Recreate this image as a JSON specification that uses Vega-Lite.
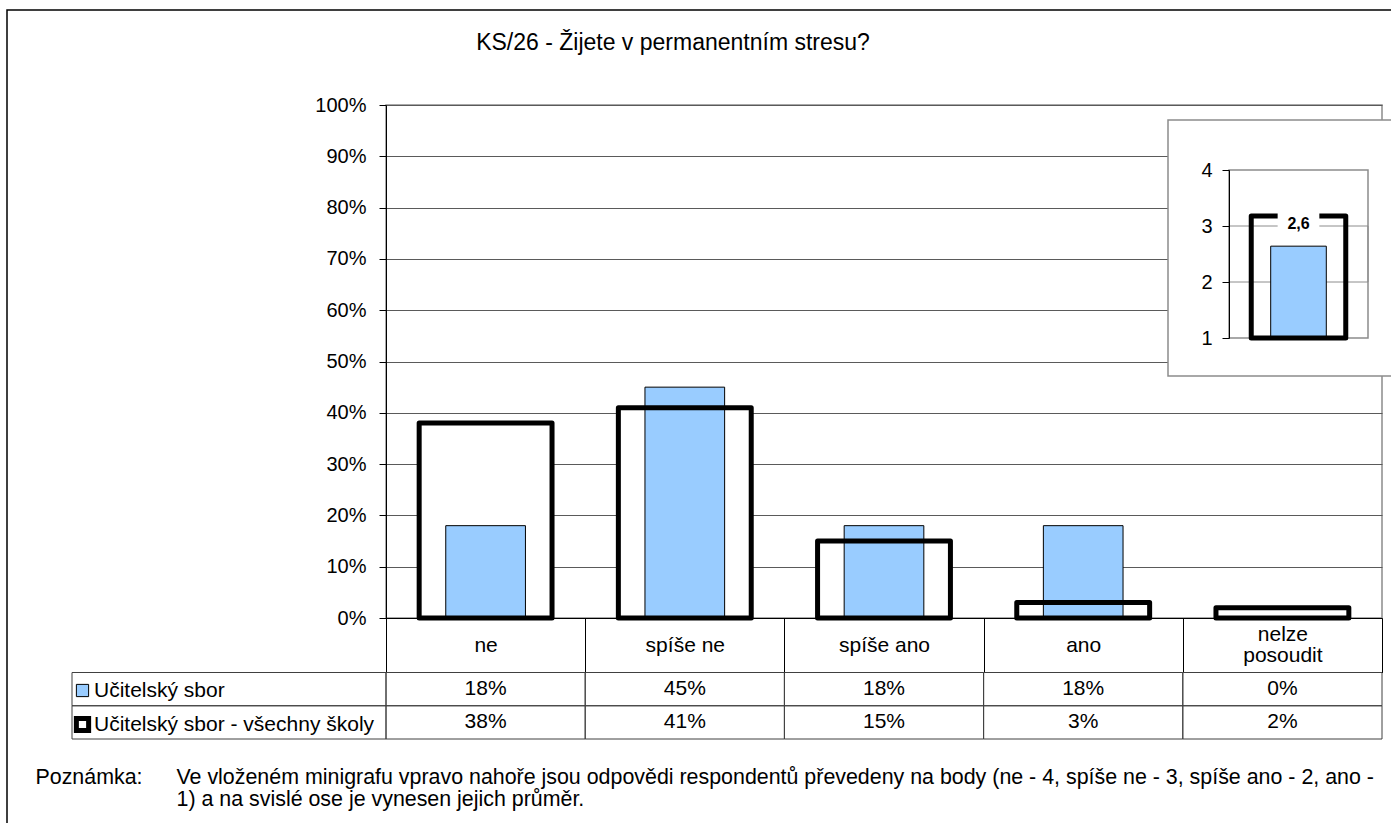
{
  "$schema": "https://vega.github.io/schema/vega-lite/v6.json",
  "width": 996,
  "height": 513,
  "autosize": {"type": "none"},
  "padding": {"left": 386, "top": 105, "right": 9, "bottom": 205},
  "background": "#ffffff",
  "title": {
    "text": "KS/26 - Žijete v permanentním stresu?",
    "font": "Liberation Sans",
    "fontSize": 23,
    "fontWeight": "normal",
    "color": "#000000",
    "anchor": "middle",
    "frame": "group",
    "dx": -211,
    "baseline": "alphabetic",
    "offset": -64
  },
  "config": {
    "font": "Liberation Sans",
    "view": {"stroke": "#8c8c8c", "strokeWidth": 1.5},
    "locale": {"number": {"decimal": ",", "thousands": " ", "grouping": [3], "currency": ["", " Kč"]}},
    "axis": {"labelFont": "Liberation Sans", "titleFont": "Liberation Sans", "labelColor": "#000000", "titleColor": "#000000", "titleFontWeight": "normal"},
    "legend": {"labelFont": "Liberation Sans", "labelColor": "#000000"}
  },
  "datasets": {
    "answers": [
      {"cat": "ne", "series": "Učitelský sbor", "value": 0.18},
      {"cat": "spíše ne", "series": "Učitelský sbor", "value": 0.45},
      {"cat": "spíše ano", "series": "Učitelský sbor", "value": 0.18},
      {"cat": "ano", "series": "Učitelský sbor", "value": 0.18},
      {"cat": "nelze posoudit", "series": "Učitelský sbor", "value": 0.0},
      {"cat": "ne", "series": "Učitelský sbor - všechny školy", "value": 0.38},
      {"cat": "spíše ne", "series": "Učitelský sbor - všechny školy", "value": 0.41},
      {"cat": "spíše ano", "series": "Učitelský sbor - všechny školy", "value": 0.15},
      {"cat": "ano", "series": "Učitelský sbor - všechny školy", "value": 0.03},
      {"cat": "nelze posoudit", "series": "Učitelský sbor - všechny školy", "value": 0.02}
    ],
    "means": [
      {"series": "Učitelský sbor", "mean": 2.64},
      {"series": "Učitelský sbor - všechny školy", "mean": 3.18}
    ]
  },
  "layer": [
    {
      "data": {"values": [{}]},
      "mark": {"type": "rect", "fill": "transparent", "stroke": "#000000", "strokeWidth": 1.5},
      "encoding": {
        "x": {"datum": 0, "type": "quantitative", "scale": {"domain": [0, 1], "range": [-379, 1012], "nice": false, "zero": false}, "axis": null},
        "x2": {"datum": 1},
        "y": {"datum": 0, "type": "quantitative", "scale": {"domain": [0, 1], "range": [-95, 730], "nice": false, "zero": false}, "axis": null},
        "y2": {"datum": 1}
      }
    },
    {
      "data": {"name": "answers"},
      "layer": [
        {
          "transform": [{"filter": "datum.series === 'Učitelský sbor - všechny školy'"}],
          "mark": {"type": "bar", "width": {"band": 0.667}, "strokeWidth": 0},
          "encoding": {
            "x": {
              "field": "cat", "type": "nominal",
              "sort": ["ne", "spíše ne", "spíše ano", "ano", "nelze posoudit"],
              "scale": {"paddingInner": 0, "paddingOuter": 0},
              "axis": {
                "orient": "bottom",
                "labelAngle": 0,
                "labelFontSize": 21,
                "labelBaseline": "middle",
                "labelPadding": {"condition": {"test": "datum.value === 'nelze posoudit'", "value": -38}, "value": -27.25},
                "labelLineHeight": 21,
                "labelExpr": "datum.value === 'nelze posoudit' ? ['nelze', 'posoudit'] : datum.label",
                "tickBand": "extent",
                "tickSize": 54.5,
                "tickColor": "#000000",
                "domainColor": "#000000",
                "grid": false,
                "title": ["Ve vloženém minigrafu vpravo nahoře jsou odpovědi respondentů převedeny na body (ne - 4, spíše ne - 3, spíše ano - 2, ano -", "1) a na svislé ose je vynesen jejich průměr."],
                "titleX": -210,
                "titleY": 165,
                "titleAlign": "left",
                "titleAnchor": "start",
                "titleBaseline": "alphabetic",
                "titleFontSize": 21.4,
                "titleLineHeight": 22,
                "titleLimit": 3000,
                "titleAngle": 0
              }
            },
            "y": {
              "field": "value", "type": "quantitative",
              "scale": {"domain": [0, 1], "nice": false},
              "axis": {
                "orient": "left",
                "values": [0, 0.1, 0.2, 0.3, 0.4, 0.5, 0.6, 0.7, 0.8, 0.9, 1],
                "format": ".0%",
                "tickSize": 7,
                "tickColor": "#000000",
                "domainColor": "#000000",
                "labelPadding": 13,
                "labelFontSize": 20,
                "grid": true,
                "gridColor": "#5a5a5a",
                "gridWidth": 1,
                "title": null
              }
            },
            "fill": {
              "field": "series", "type": "nominal",
              "scale": {"domain": ["Učitelský sbor", "Učitelský sbor - všechny školy"], "range": ["#99CCFF", "#FFFFFF"]},
              "legend": {
                "orient": "none",
                "legendX": -314,
                "legendY": 575,
                "title": null,
                "direction": "vertical",
                "symbolType": "square",
                "symbolSize": 150,
                "symbolStrokeColor": "#000000",
                "labelFontSize": 21,
                "labelOffset": 1,
                "labelLimit": 600,
                "rowPadding": 7,
                "padding": 0,
                "zindex": 2
              }
            }
          }
        },
        {
          "transform": [{"filter": "datum.series === 'Učitelský sbor'"}],
          "mark": {"type": "bar", "width": {"band": 0.4}, "stroke": "#000000"},
          "encoding": {
            "x": {"field": "cat", "type": "nominal", "sort": ["ne", "spíše ne", "spíše ano", "ano", "nelze posoudit"]},
            "y": {"field": "value", "type": "quantitative"},
            "fill": {"field": "series", "type": "nominal"},
            "strokeWidth": {
              "field": "series", "type": "ordinal",
              "scale": {"domain": ["Učitelský sbor", "Učitelský sbor - všechny školy"], "range": [1, 5]},
              "legend": {
                "orient": "none",
                "legendX": -314,
                "legendY": 575,
                "title": null,
                "direction": "vertical",
                "symbolType": "square",
                "symbolSize": 150,
                "symbolStrokeColor": "#000000",
                "labelFontSize": 21,
                "labelOffset": 1,
                "labelLimit": 600,
                "rowPadding": 7,
                "padding": 0,
                "zindex": 2
              }
            }
          }
        },
        {
          "transform": [{"filter": "datum.series === 'Učitelský sbor - všechny školy'"}],
          "mark": {"type": "bar", "width": {"band": 0.667}, "fill": "transparent", "stroke": "#000000", "strokeJoin": "round"},
          "encoding": {
            "x": {"field": "cat", "type": "nominal", "sort": ["ne", "spíše ne", "spíše ano", "ano", "nelze posoudit"]},
            "y": {"field": "value", "type": "quantitative"},
            "strokeWidth": {"field": "series", "type": "ordinal"}
          }
        }
      ]
    },
    {
      "data": {"name": "answers"},
      "layer": [
        {
          "mark": {"type": "rect", "fill": "transparent", "stroke": "#404040", "strokeWidth": 1},
          "encoding": {
            "x": {"field": "cat", "type": "nominal", "sort": ["ne", "spíše ne", "spíše ano", "ano", "nelze posoudit"], "scale": {"type": "band", "paddingInner": 0, "paddingOuter": 0}, "axis": null},
            "y": {
              "field": "series", "type": "nominal",
              "sort": ["Učitelský sbor", "Učitelský sbor - všechny školy"],
              "scale": {"type": "band", "range": [567.5, 634], "paddingInner": 0, "paddingOuter": 0},
              "axis": {
                "orient": "left",
                "domain": false,
                "ticks": false,
                "labels": false,
                "grid": false,
                "title": "Poznámka:",
                "titleAngle": 0,
                "titleX": -351,
                "titleY": 678,
                "titleAlign": "left",
                "titleBaseline": "alphabetic",
                "titleFontSize": 21.4,
                "titleFontWeight": "normal"
              }
            }
          }
        },
        {
          "mark": {"type": "text", "fontSize": 21, "font": "Liberation Sans", "color": "#000000", "baseline": "middle", "align": "center"},
          "encoding": {
            "x": {"field": "cat", "type": "nominal", "sort": ["ne", "spíše ne", "spíše ano", "ano", "nelze posoudit"], "scale": {"type": "band", "paddingInner": 0, "paddingOuter": 0}, "axis": null},
            "y": {"field": "series", "type": "nominal", "sort": ["Učitelský sbor", "Učitelský sbor - všechny školy"]},
            "text": {"field": "value", "type": "quantitative", "format": ".0%"}
          }
        },
        {
          "transform": [{"filter": "datum.cat === 'ne'"}],
          "mark": {"type": "rect", "fill": "transparent", "stroke": "#404040", "strokeWidth": 1},
          "encoding": {
            "x": {"datum": "popis", "type": "nominal", "scale": {"type": "band", "domain": ["popis"], "range": [-314, 0], "paddingInner": 0, "paddingOuter": 0}, "axis": null},
            "y": {"field": "series", "type": "nominal", "sort": ["Učitelský sbor", "Učitelský sbor - všechny školy"]}
          }
        }
      ],
      "resolve": {"scale": {"x": "independent"}}
    },
    {
      "data": {"values": [{}]},
      "mark": {"type": "rect", "fill": "#ffffff", "stroke": "#8c8c8c", "strokeWidth": 1.5},
      "encoding": {
        "x": {"datum": 0, "type": "quantitative", "scale": {"domain": [0, 1], "range": [782, 1012], "nice": false, "zero": false}, "axis": null},
        "x2": {"datum": 1},
        "y": {"datum": 0, "type": "quantitative", "scale": {"domain": [0, 1], "range": [15, 271], "nice": false, "zero": false}, "axis": null},
        "y2": {"datum": 1}
      }
    },
    {
      "data": {"name": "means"},
      "layer": [
        {
          "transform": [{"filter": "datum.series === 'Učitelský sbor'"}],
          "mark": {"type": "rect", "fill": "transparent", "stroke": "#8c8c8c", "strokeWidth": 1.5},
          "encoding": {
            "x": {"datum": "průměr", "type": "nominal", "scale": {"type": "band", "domain": ["průměr"], "range": [843, 982], "paddingInner": 0, "paddingOuter": 0}, "axis": null},
            "y": {
              "datum": 4, "type": "quantitative",
              "scale": {"domain": [1, 4], "range": [233, 65], "zero": false, "nice": false},
              "axis": {
                "orient": "left",
                "offset": -843,
                "values": [1, 2, 3, 4],
                "format": "d",
                "tickSize": 7,
                "tickColor": "#000000",
                "domainColor": "#000000",
                "labelPadding": 10,
                "labelFontSize": 20,
                "grid": false,
                "title": null,
                "zindex": 2
              }
            },
            "y2": {"datum": 1}
          }
        },
        {
          "transform": [{"filter": "datum.series === 'Učitelský sbor'"}],
          "mark": {"type": "rect", "fill": "transparent", "stroke": "#8c8c8c", "strokeWidth": 1},
          "encoding": {
            "x": {"datum": "průměr", "type": "nominal"},
            "y": {"datum": 3, "type": "quantitative"},
            "y2": {"datum": 2}
          }
        },
        {
          "transform": [{"filter": "datum.series === 'Učitelský sbor'"}],
          "mark": {"type": "bar", "width": {"band": 0.4}, "fill": "#99CCFF", "stroke": "#000000", "strokeWidth": 1},
          "encoding": {
            "x": {"datum": "průměr", "type": "nominal"},
            "y": {"field": "mean", "type": "quantitative"},
            "y2": {"datum": 1}
          }
        },
        {
          "transform": [{"filter": "datum.series === 'Učitelský sbor - všechny školy'"}],
          "mark": {"type": "bar", "width": {"band": 0.68}, "fill": "transparent", "stroke": "#000000", "strokeWidth": 5, "strokeJoin": "round"},
          "encoding": {
            "x": {"datum": "průměr", "type": "nominal"},
            "y": {"field": "mean", "type": "quantitative"},
            "y2": {"datum": 1}
          }
        },
        {
          "transform": [{"filter": "datum.series === 'Učitelský sbor'"}],
          "mark": {"type": "bar", "width": {"band": 0.3}, "fill": "#ffffff", "strokeWidth": 0},
          "encoding": {
            "x": {"datum": "průměr", "type": "nominal"},
            "y": {"datum": 3.29, "type": "quantitative"},
            "y2": {"datum": 2.79}
          }
        },
        {
          "transform": [{"filter": "datum.series === 'Učitelský sbor'"}],
          "mark": {"type": "text", "fontSize": 16, "fontWeight": "bold", "font": "Liberation Sans", "color": "#000000", "baseline": "middle", "align": "center"},
          "encoding": {
            "x": {"datum": "průměr", "type": "nominal"},
            "y": {"datum": 3.03, "type": "quantitative"},
            "text": {"field": "mean", "type": "quantitative", "format": ".1f"}
          }
        }
      ]
    }
  ],
  "resolve": {"scale": {"x": "independent", "y": "independent"}}
}
